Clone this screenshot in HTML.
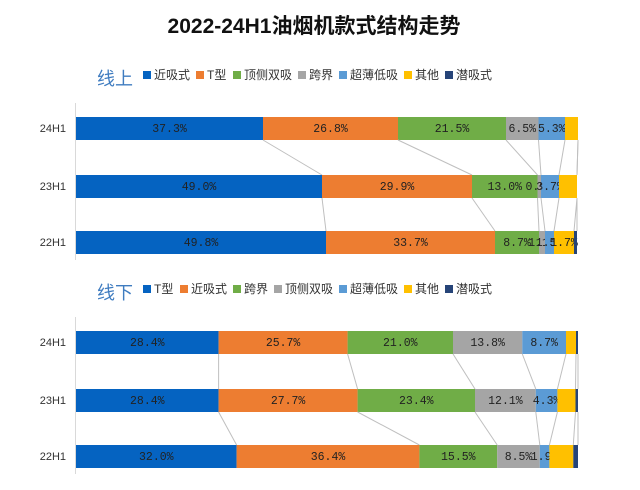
<!DOCTYPE html>
<html><head><meta charset="utf-8"><style>
body{margin:0;background:#fff;width:640px;height:490px;overflow:hidden}
svg{display:block}
text{font-family:"Liberation Sans","Noto Sans CJK SC",sans-serif}
.v{font-family:"Liberation Mono","Noto Sans CJK SC",monospace;font-size:11.5px;fill:#222;text-anchor:middle}
.y{font-size:11px;fill:#333;text-anchor:end}
.lg{font-size:12px;fill:#333}
</style></head><body>
<svg width="640" height="490" xmlns="http://www.w3.org/2000/svg">
<text x="314" y="33" text-anchor="middle" font-size="21" font-weight="bold" fill="#111">2022-24H1油烟机款式结构走势</text>
</svg>
<script>
var C=["#0563c1","#ed7d31","#70ad47","#a5a5a5","#5b9bd5","#ffc000","#264478"];
var NS="http://www.w3.org/2000/svg",svg=document.querySelector("svg");
function el(t,a,txt){var e=document.createElementNS(NS,t);for(var k in a)e.setAttribute(k,a[k]);if(txt!=null)e.textContent=txt;svg.appendChild(e);return e;}
function chart(oy,title,names,rows){
  el("text",{x:97,y:oy+25,"font-size":18,fill:"#3f7cc0"},title);
  var x=143;
  names.forEach(function(n,i){el("rect",{x:x,y:oy+11,width:8,height:8,fill:C[i]});el("text",{x:x+11,y:oy+19,class:"lg"},n);x+=11+n.length*12+(n=="T型"?-4:0)+6;});
  el("line",{x1:75.5,y1:oy+43,x2:75.5,y2:oy+200,stroke:"#d9d9d9","stroke-width":1});
  var ys=[oy+57,oy+115,oy+171];
  rows.forEach(function(r,ri){
    var y=ys[ri],prev=76;
    el("text",{x:66,y:y+15,class:"y"},r.n);
    r.b.forEach(function(b,i){
      el("rect",{x:prev,y:y,width:b-prev,height:23,fill:C[i]});
      if(r.l[i])el("text",{x:(prev+b)/2,y:y+15,class:"v"},r.l[i]);
      prev=b;
    });
    if(ri<2){var nb=rows[ri+1].b;
      r.b.forEach(function(b,i){if(nb[i]!=null)el("line",{x1:b,y1:y+23,x2:nb[i],y2:ys[ri+1],stroke:"#bfbfbf","stroke-width":1});});}
  });
}
chart(60,"线上",["近吸式","T型","顶侧双吸","跨界","超薄低吸","其他","潜吸式"],[
 {n:"24H1",b:[263,398,506,538.5,565,578,578],l:["37.3%","26.8%","21.5%","6.5%","5.3%","",""]},
 {n:"23H1",b:[322,472,537.5,541,559,577,577],l:["49.0%","29.9%","13.0%","0.9%","3.7%","",""]},
 {n:"22H1",b:[326,495,539,545,554,574,577],l:["49.8%","33.7%","8.7%","1.1%","1.5%","1.7%",""]}]);
chart(274,"线下",["T型","近吸式","跨界","顶侧双吸","超薄低吸","其他","潜吸式"],[
 {n:"24H1",b:[218.6,347.6,453,522.3,566,576,578],l:["28.4%","25.7%","21.0%","13.8%","8.7%","",""]},
 {n:"23H1",b:[218.6,357.6,475,535.8,557.4,575.5,578],l:["28.4%","27.7%","23.4%","12.1%","4.3%","",""]},
 {n:"22H1",b:[236.6,419.4,497.2,539.8,549.4,573.3,578],l:["32.0%","36.4%","15.5%","8.5%","1.9%","",""]}]);
</script>
</body></html>
